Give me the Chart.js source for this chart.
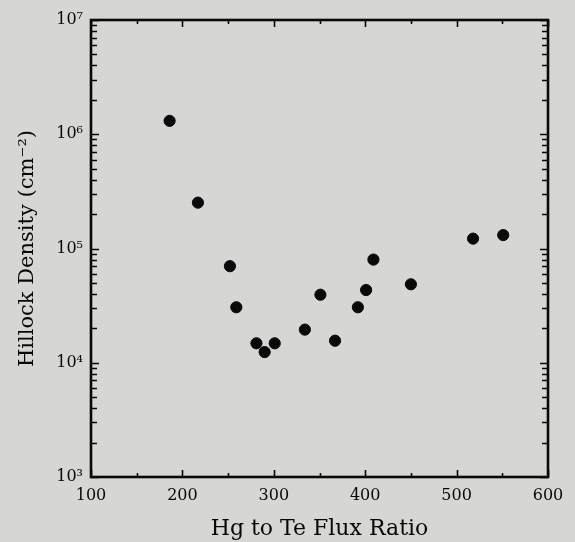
<!DOCTYPE html>
<html><head><meta charset="utf-8">
<script src="https://cdn.jsdelivr.net/npm/chart.js@4"></script>
<style>html,body{margin:0;padding:0;background:#d6d6d4;}#wrap{width:575px;height:542px;}</style>
</head><body><div id="wrap"><canvas id="c" width="575" height="542"></canvas></div>
<script>
// Data
const fluxRatio      = [186, 217, 252, 259, 281, 290, 301, 334, 351, 367, 392, 401, 409, 450, 518, 551];
const hillockDensity = [1.31e6, 2.52e5, 7.0e4, 3.06e4, 1.48e4, 1.24e4, 1.48e4, 1.95e4, 3.94e4, 1.56e4, 3.06e4, 4.33e4, 8.0e4, 4.86e4, 1.22e5, 1.31e5];
// Axis ticks
const xMajorTicks = [100, 200, 300, 400, 500, 600];
const xMinorTicks = [150, 250, 350, 450, 550];
const yMajorTicks = [1e3, 1e4, 1e5, 1e6, 1e7];
const yMajorLabels = ['10\u00B3', '10\u2074', '10\u2075', '10\u2076', '10\u2077'];
const yMinorMultipliers = [2, 3, 4, 5, 6, 7, 8, 9];
const yMinorTicks = [];
yMajorTicks.slice(0, -1).forEach(d => yMinorMultipliers.forEach(m => yMinorTicks.push(d * m)));

const BG = '#d6d6d4';
const INK = '#080808';
const FONT = 'DejaVu Serif';

const frameTicks = {
  id: 'frameTicks',
  beforeDraw(chart) {
    const ctx = chart.ctx;
    ctx.save(); ctx.fillStyle = BG; ctx.fillRect(0, 0, chart.width, chart.height); ctx.restore();
  },
  beforeDatasetsDraw(chart) {
    const {ctx, chartArea: a, scales: {x, y}} = chart;
    ctx.save();
    ctx.strokeStyle = INK;
    ctx.lineWidth = 1.6;
    const xt = (vals, len) => vals.forEach(v => {
      const px = Math.round(x.getPixelForValue(v)) + 0.5;
      ctx.beginPath(); ctx.moveTo(px, a.bottom); ctx.lineTo(px, a.bottom - len);
      ctx.moveTo(px, a.top); ctx.lineTo(px, a.top + len); ctx.stroke();
    });
    const yt = (vals, len) => vals.forEach(v => {
      const py = Math.round(y.getPixelForValue(v)) + 0.5;
      ctx.beginPath(); ctx.moveTo(a.left, py); ctx.lineTo(a.left + len, py);
      ctx.moveTo(a.right, py); ctx.lineTo(a.right - len, py); ctx.stroke();
    });
    xt(xMajorTicks, 7); xt(xMinorTicks, 4);
    yt(yMajorTicks, 8); yt(yMinorTicks, 6);
    ctx.lineWidth = 2.6;
    ctx.strokeRect(a.left, a.top, a.right - a.left, a.bottom - a.top);
    ctx.restore();
  }
};

new Chart(document.getElementById('c'), {
  type: 'scatter',
  data: {
    datasets: [{
      data: fluxRatio.map((v, i) => ({x: v, y: hillockDensity[i]})),
      backgroundColor: '#0a0a0a',
      borderColor: '#0a0a0a',
      pointRadius: 5.6,
      pointHoverRadius: 5.6
    }]
  },
  options: {
    responsive: false,
    devicePixelRatio: 1,
    animation: false,
    events: [],
    layout: {padding: {left: 8, right: 27, top: 20, bottom: 0}},
    plugins: {legend: {display: false}, tooltip: {enabled: false}},
    scales: {
      x: {
        type: 'linear', min: 100, max: 600,
        afterBuildTicks: s => { s.ticks = xMajorTicks.map(v => ({value: v})); },
        afterFit: s => { s.height = 65; },
        grid: {display: false, drawTicks: false},
        border: {display: false},
        ticks: {color: INK, font: {family: FONT, size: 16}, padding: 9, maxRotation: 0, autoSkip: false,
                callback: v => String(v)},
        title: {display: true, text: 'Hg to Te Flux Ratio', color: INK,
                font: {family: FONT, size: 22}, padding: {top: 0, bottom: 0}}
      },
      y: {
        type: 'logarithmic', min: 1e3, max: 1e7,
        afterBuildTicks: s => { s.ticks = yMajorTicks.map(v => ({value: v})); },
        afterFit: s => { s.width = 83; },
        grid: {display: false, drawTicks: false},
        border: {display: false},
        ticks: {color: INK, font: {family: FONT, size: 16}, padding: 8, autoSkip: false,
                callback: v => { const i = yMajorTicks.indexOf(v); return i >= 0 ? yMajorLabels[i] : ''; }},
        title: {display: true, text: 'Hillock Density (cm\u207B\u00B2)', color: INK,
                font: {family: FONT, size: 21}, padding: {top: 7, bottom: 0}}
      }
    }
  },
  plugins: [frameTicks]
});
</script>
</body></html>
